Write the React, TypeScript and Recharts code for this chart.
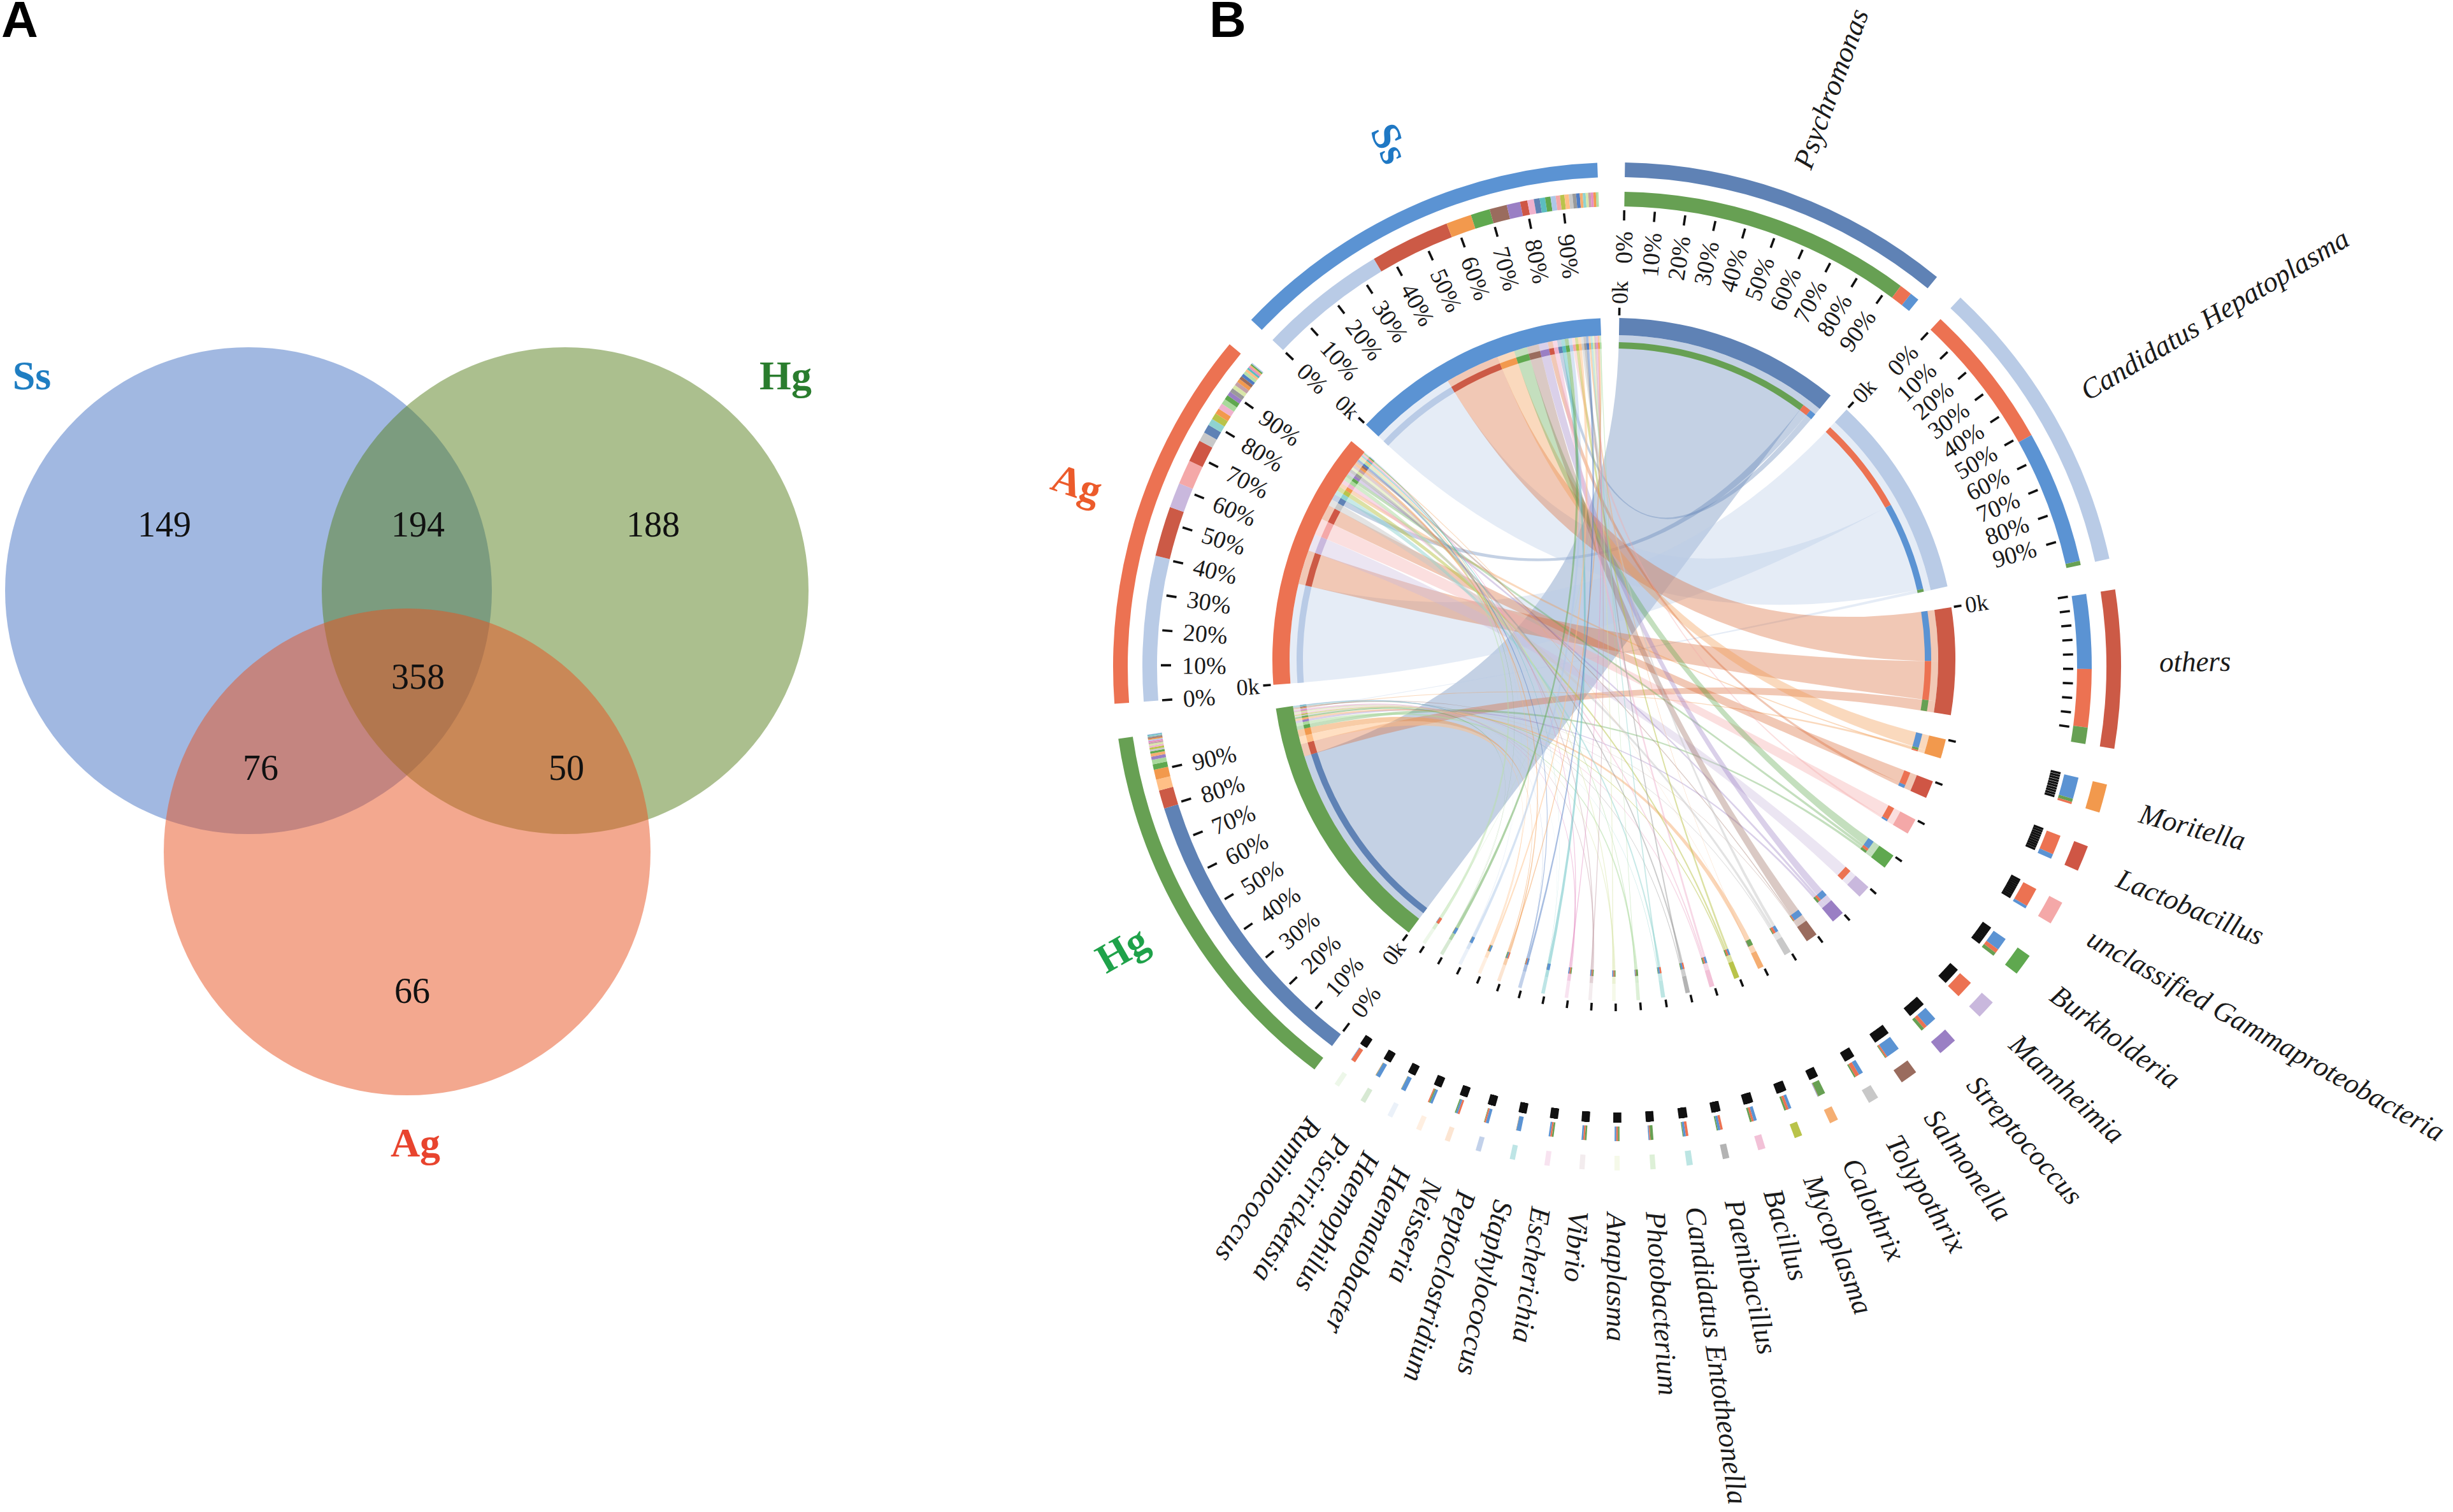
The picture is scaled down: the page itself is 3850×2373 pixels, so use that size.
// Рисунок из двух панелей: A - диаграмма Венна, B - хордовая диаграмма родов и хозяев.
import React from 'react';
import { PieChart, Pie, ScatterChart, Scatter, XAxis, YAxis, ZAxis } from 'recharts';

// ---------- данные панели A ----------
const vennSets = ['Ss', 'Hg', 'Ag'];
const vennCounts = [149, 194, 188, 358, 76, 50, 66];

// ---------- данные панели B ----------
const genusNames = [
  'Psychromonas', 'Candidatus Hepatoplasma', 'others', 'Moritella', 'Lactobacillus',
  'unclassified Gammaproteobacteria', 'Burkholderia', 'Mannheimia', 'Streptococcus', 'Salmonella',
  'Tolypothrix', 'Calothrix', 'Mycoplasma', 'Bacillus', 'Paenibacillus', 'Candidatus Entotheonella',
  'Photobacterium', 'Anaplasma', 'Vibrio', 'Escherichia', 'Staphylococcus', 'Peptoclostridium',
  'Neisseria', 'Haematobacter', 'Haemophilus', 'Piscirickettsia', 'Ruminococcus',
];
const genusSizes = [38.5, 34.7, 18.2, 3.3, 3, 2.7, 2.5, 2.2, 2.2, 2, 1.2, 1, 0.9, 0.85, 0.75, 0.7, 0.6, 0.6, 0.6, 0.6, 0.6, 0.6, 0.6, 0.6, 0.6, 0.6, 0.6];
const hostNames = ['Hg', 'Ag', 'Ss'];
const hostSizes = [44.85, 44, 44.3];

// доля рода внутри хозяина, %
const ssByGenus = [1.6, 35.4, 22, 7, 2, 1.2, 5.3, 0, 3.7, 4.8, 1, 0.8, 1.2, 1.8, 1, 0.8, 0.4, 0.7, 0.7, 0.7, 1.5, 1, 0.7, 1.2, 1.4, 1.5, 0.3];
const agByGenus = [2.4, 40.5, 14, 1.6, 6.2, 6.8, 1.3, 7, 1.2, 0.9, 2.6, 0.4, 1.8, 1.6, 1.2, 1.9, 1.5, 1.1, 1.1, 0.5, 0.6, 0.9, 1, 0.7, 0.3, 0.4, 0.9];
const hgByGenus = [79, 0.3, 5, 0.3, 0, 0, 1.5, 0, 0.9, 0.3, 0.5, 0.8, 0.5, 0.5, 0.3, 0.2, 1.2, 0.5, 0.4, 0.4, 0.2, 0.1, 2.7, 3, 0.1, 0.6, 0];

// доля хозяина внутри рода, %
const genusInSs = [3, 47, 50, 80, 20, 13, 62, 0, 62, 85, 45, 5, 40, 45, 40, 40, 20, 33, 33, 33, 92, 60, 35, 50, 90, 85, 10];
const genusInAg = [4, 51.5, 39, 8, 80, 87, 20, 100, 20, 10, 40, 5, 35, 30, 40, 45, 20, 33, 33, 33, 4, 30, 40, 25, 3, 5, 90];
const genusInHg = [93, 1.5, 11, 12, 0, 0, 18, 0, 18, 5, 15, 90, 25, 25, 20, 15, 60, 34, 34, 34, 4, 10, 25, 25, 7, 10, 0];

// ---------- оформление ----------
const SERIF = '"Liberation Serif", serif';
const VENN_FILL: Record<string, string> = { Ss: '#4472c4', Hg: '#577f1d', Ag: '#e7511f' };
const VENN_TEXT: Record<string, string> = { Ss: '#1f7ec2', Hg: '#2a7d2e', Ag: '#e8442e' };
const VENN_RADIUS = 382;
const VENN_CENTERS = [[390, 927], [887, 927], [639, 1337]];
const VENN_SET_LABELS = [[50, 590], [1233, 590], [652, 1794]];
const VENN_COUNT_SPOTS = [[258, 822], [656, 822], [1025, 822], [656, 1061], [409, 1204], [889, 1204], [647, 1554]];

const GENUS_COLORS = [
  '#5f82b5', '#b9cbe6', '#cc5a46', '#f2994d', '#cf5645', '#f4a8a8', '#5fa84f', '#c9b8dd', '#9a7fc4',
  '#9a6c5e', '#c8c8c8', '#f5ae72', '#b9c34a', '#efb1cd', '#9a9a9a', '#8fd3d0', '#a9d99c', '#d8e6a8',
  '#c4a0a8', '#e58fc4', '#5cbdc0', '#4f7cc4', '#f2994d', '#ffbf86', '#aec7e8', '#5fa84f', '#b8e0a8',
];
// у красных лент оттенок на оригинале ближе к оранжевому
const LINK_COLOR_OVERRIDE: Record<number, string> = { 2: '#d96a35', 4: '#d96a35' };
// тонкие сектора на оригинале выглядят бледными
const GENUS_FADE = [1, 1, 1, 1, 1, 1, 1, 1, 1, 1, 1, 1, 1, 0.8, 0.75, 0.6, 0.4, 0.25, 0.2, 0.25, 0.4, 0.35, 0.25, 0.25, 0.25, 0.25, 0.25];
const HOST_COLORS: Record<string, string> = { Ss: '#5b93d3', Ag: '#ec7252', Hg: '#67a053' };
const HOST_LABEL_COLORS: Record<string, string> = { Ss: '#1f78c4', Ag: '#ec5b2b', Hg: '#1fa24a' };

const CHART_LEFT = 1500;
const FIRST_ANGLE = 0.9;
// промежутки после каждого сектора по часовой стрелке, градусы
const SECTOR_GAPS = [
  3.55, 3.55, 4.15, 4.05, 4.05, 4.4, 4.25, 3.9, 3.5, 3.2, 4, 3.45, 3.525, 3.4, 3.475, 3.55, 3.5, 3.4, 3.4, 3.4, 3.4,
  3.1, 2.9, 3, 2.9, 2.9, 2.8, 4, 3.7, 0,
];
const LABELLED = ['Psychromonas', 'Candidatus Hepatoplasma', 'Hg', 'Ag', 'Ss'];
const ZERO_K = ['Psychromonas', 'Candidatus Hepatoplasma', 'others', 'Hg', 'Ag', 'Ss'];
const HOST_LABEL_SHIFT = 1;
// поправка к углу подписи рода, градусы
const NAME_NUDGE: Record<string, number> = { 'Candidatus Hepatoplasma': -1.1, others: -1.2 };
const NAME_RADIUS = 851;
// Psychromonas упирается в верхний край страницы
const NAME_RADIUS_NUDGE: Record<string, number> = { Psychromonas: -10 };

// внешняя и внутренняя группы колец на оригинале чуть смещены друг относительно друга
const OUT = { cx: 2538 - CHART_LEFT, cy: 1046 };
const INN = { cx: 2533 - CHART_LEFT, cy: 1035 };
const NAMES = { cx: 2538 - CHART_LEFT, cy: 1052 };

type Part = { key: string; share: number; color: string; a0: number; a1: number };
type Sector = { name: string; size: number; a0: number; a1: number; color: string; fade: number; parts: Part[] };

const hostByGenus: Record<string, number[]> = { Ss: ssByGenus, Ag: agByGenus, Hg: hgByGenus };
const genusInHost: Record<string, number[]> = { Ss: genusInSs, Ag: genusInAg, Hg: genusInHg };

const buildParts = (a0: number, a1: number, items: { key: string; value: number; color: string }[]): Part[] => {
  const live = items.filter((d) => d.value > 0).sort((p, q) => q.value - p.value);
  const total = live.reduce((s, d) => s + d.value, 0);
  let cur = a0;
  return live.map((d) => {
    const w = ((a1 - a0) * d.value) / total;
    const part = { key: d.key, share: d.value / total, color: d.color, a0: cur, a1: cur + w };
    cur += w;
    return part;
  });
};

const sectors: Sector[] = [];
{
  let cursor = FIRST_ANGLE;
  genusNames.forEach((name, i) => {
    const a0 = cursor;
    const a1 = a0 + genusSizes[i];
    const parts = buildParts(a0, a1, hostNames.map((h) => ({ key: h, value: genusInHost[h][i], color: HOST_COLORS[h] })));
    sectors.push({ name, size: genusSizes[i], a0, a1, color: GENUS_COLORS[i], fade: GENUS_FADE[i], parts });
    cursor = a1 + SECTOR_GAPS[i];
  });
  hostNames.forEach((name, i) => {
    const a0 = cursor;
    const a1 = a0 + hostSizes[i];
    const parts = buildParts(a0, a1, genusNames.map((g, k) => ({ key: g, value: hostByGenus[name][k], color: GENUS_COLORS[k] })));
    sectors.push({ name, size: hostSizes[i], a0, a1, color: HOST_COLORS[name], fade: 1, parts });
    cursor = a1 + SECTOR_GAPS[genusNames.length + i];
  });
}

const blank = (value: number) => ({ name: 'gap', value, fill: 'none' });

// кольцо секторов: кусок сектора и пустой промежуток по очереди
const barSlices = (withFade: boolean) => {
  const rows: any[] = [blank(FIRST_ANGLE)];
  sectors.forEach((s, i) => {
    rows.push({ name: s.name, value: s.a1 - s.a0, fill: s.color, fillOpacity: withFade ? s.fade : 1 });
    const next = i < sectors.length - 1 ? sectors[i + 1].a0 : 360;
    rows.push(blank(next - s.a1));
  });
  return rows;
};

// кольцо состава: сектор разбит по партнёрам
const partSlices = () => {
  const rows: any[] = [blank(FIRST_ANGLE)];
  sectors.forEach((s, i) => {
    s.parts.forEach((p) => rows.push({ name: p.key, value: p.a1 - p.a0, fill: p.color }));
    const next = i < sectors.length - 1 ? sectors[i + 1].a0 : 360;
    rows.push(blank(next - s.a1));
  });
  return rows;
};

const polar = (c: { cx: number; cy: number }, r: number, deg: number): [number, number] => {
  const t = (deg * Math.PI) / 180;
  return [c.cx + r * Math.sin(t), c.cy - r * Math.cos(t)];
};

const RIBBON_R = 509;

const ribbonPath = (h0: number, h1: number, g0: number, g1: number) => {
  const r = RIBBON_R;
  const [ax, ay] = polar(INN, r, h0);
  const [bx, by] = polar(INN, r, h1);
  const [cx, cy] = polar(INN, r, g0);
  const [dx, dy] = polar(INN, r, g1);
  const { cx: mx, cy: my } = INN;
  return `M${ax} ${ay}A${r} ${r} 0 0 1 ${bx} ${by}Q${mx} ${my} ${cx} ${cy}A${r} ${r} 0 0 1 ${dx} ${dy}Q${mx} ${my} ${ax} ${ay}Z`;
};

const Ribbons = () => {
  const rows: React.ReactNode[] = [];
  genusNames.forEach((g, gi) => {
    hostNames.forEach((h) => {
      const host = sectors.find((s) => s.name === h)!;
      const hp = host.parts.find((p) => p.key === g);
      const gp = sectors[gi].parts.find((p) => p.key === h);
      if (!hp || !gp) return;
      rows.push(
        <path
          key={g + h}
          d={ribbonPath(hp.a0, hp.a1, gp.a0, gp.a1)}
          fill={LINK_COLOR_OVERRIDE[gi] || GENUS_COLORS[gi]}
          fillOpacity={gi < 10 ? 0.37 : 0.5}
        />,
      );
    });
  });
  return <g>{rows}</g>;
};

const Radial = ({ c, r0, r1, deg, width = 3.6 }: { c: { cx: number; cy: number }; r0: number; r1: number; deg: number; width?: number }) => {
  const [x0, y0] = polar(c, r0, deg);
  const [x1, y1] = polar(c, r1, deg);
  return <line x1={x0} y1={y0} x2={x1} y2={y1} stroke="#111" strokeWidth={width} />;
};

// подпись вдоль радиуса: справа читается наружу, слева внутрь
const RadialText = ({ c, r, deg, text, size, outerEnd }: { c: { cx: number; cy: number }; r: number; deg: number; text: string; size: number; outerEnd: boolean }) => {
  const [x, y] = polar(c, r, deg);
  const right = deg < 180;
  return (
    <text
      x={x}
      y={y}
      dy=".35em"
      textAnchor={outerEnd ? (right ? 'end' : 'start') : right ? 'start' : 'end'}
      transform={`rotate(${right ? deg - 90 : deg - 270} ${x} ${y})`}
      fontFamily={SERIF}
      fontSize={size}
      fill="#1a1a1a"
    >
      {text}
    </text>
  );
};

const Annotations = () => (
  <g>
    {sectors.map((s) => (
      <g key={s.name}>
        {[0, 1, 2, 3, 4, 5, 6, 7, 8, 9].map((k) => (
          <Radial key={k} c={OUT} r0={700} r1={716} width={s.size < 1 ? 6 : 3.6} deg={s.a0 + ((s.a1 - s.a0) * k) / 10} />
        ))}
        <Radial c={INN} r0={540} r1={552} deg={s.a0} />
        {LABELLED.includes(s.name) &&
          [0, 1, 2, 3, 4, 5, 6, 7, 8, 9].map((k) => (
            <RadialText key={k} c={OUT} r={683} deg={s.a0 + ((s.a1 - s.a0) * k) / 10} text={`${k * 10}%`} size={38} outerEnd />
          ))}
        {ZERO_K.includes(s.name) && <RadialText c={INN} r={558} deg={s.a0} text="0k" size={36} outerEnd={false} />}
      </g>
    ))}
    {sectors.slice(0, genusNames.length).map((s) => {
      const mid = (s.a0 + s.a1) / 2 + (NAME_NUDGE[s.name] || 0);
      const [x, y] = polar(NAMES, NAME_RADIUS + (NAME_RADIUS_NUDGE[s.name] || 0), mid);
      return (
        <text
          key={s.name}
          x={x}
          y={y}
          dy=".35em"
          transform={`rotate(${mid - 90} ${x} ${y})`}
          fontFamily={SERIF}
          fontStyle="italic"
          fontSize={45}
          fill="#1a1a1a"
        >
          {s.name}
        </text>
      );
    })}
    {sectors.slice(genusNames.length).map((s) => {
      const mid = (s.a0 + s.a1) / 2 + HOST_LABEL_SHIFT;
      const [x, y] = polar(OUT, 895, mid);
      return (
        <text
          key={s.name}
          x={x}
          y={y}
          dy=".35em"
          textAnchor="middle"
          transform={`rotate(${mid - 270} ${x} ${y})`}
          fontFamily={SERIF}
          fontWeight="bold"
          fontSize={64}
          fill={HOST_LABEL_COLORS[s.name]}
        >
          {s.name}
        </text>
      );
    })}
  </g>
);

const Ring = ({ data, c, inner, outer }: { data: any[]; c: { cx: number; cy: number }; inner: number; outer: number }) => (
  <Pie
    data={data}
    dataKey="value"
    nameKey="name"
    cx={c.cx}
    cy={c.cy}
    innerRadius={inner}
    outerRadius={outer}
    startAngle={90}
    endAngle={-270}
    paddingAngle={0}
    stroke="none"
    label={false}
    labelLine={false}
    isAnimationActive={false}
  />
);

const vennCircleRows = vennSets.map((name, i) => ({ name, x: VENN_CENTERS[i][0], y: VENN_CENTERS[i][1], z: 1 }));
const vennSetRows = vennSets.map((name, i) => ({ name, x: VENN_SET_LABELS[i][0], y: VENN_SET_LABELS[i][1] }));
const vennCountRows = vennCounts.map((count, i) => ({ count, x: VENN_COUNT_SPOTS[i][0], y: VENN_COUNT_SPOTS[i][1] }));

const CountMark = (p: any) => (
  <text x={p.cx} y={p.cy} dy=".35em" textAnchor="middle" fontFamily={SERIF} fontSize={56} fill="#111">
    {p.payload.count}
  </text>
);
const SetMark = (p: any) => (
  <text
    x={p.cx}
    y={p.cy}
    dy=".33em"
    textAnchor="middle"
    fontFamily={SERIF}
    fontWeight="bold"
    fontSize={64}
    fill={VENN_TEXT[p.payload.name]}
  >
    {p.payload.name}
  </text>
);

const VennPanel = () => {
  const area = Math.PI * VENN_RADIUS * VENN_RADIUS;
  return (
    <ScatterChart width={1400} height={1900} margin={{ top: 0, right: 0, bottom: 0, left: 0 }}>
      <XAxis type="number" dataKey="x" domain={[0, 1400]} hide />
      <YAxis type="number" dataKey="y" domain={[0, 1900]} reversed hide />
      <ZAxis type="number" dataKey="z" range={[area, area]} />
      {vennCircleRows.map((row) => (
        <Scatter key={row.name} data={[row]} fill={VENN_FILL[row.name]} fillOpacity={0.5} isAnimationActive={false} />
      ))}
      <Scatter data={vennSetRows} shape={SetMark} isAnimationActive={false} />
      <Scatter data={vennCountRows} shape={CountMark} isAnimationActive={false} />
    </ScatterChart>
  );
};

const ChordPanel = () => (
  <PieChart width={3850 - CHART_LEFT} height={2373} margin={{ top: 0, right: 0, bottom: 0, left: 0 }}>
    <Ribbons />
    <Ring data={barSlices(true)} c={OUT} inner={768} outer={791} />
    <Ring data={partSlices()} c={OUT} inner={722} outer={745} />
    <Ring data={barSlices(true)} c={INN} inner={509} outer={536} />
    <Ring data={partSlices()} c={INN} inner={488} outer={498} />
    <Annotations />
  </PieChart>
);

const panelLetter = (text: string, left: number) => (
  <div
    style={{
      position: 'absolute',
      left,
      top: 0,
      fontFamily: '"Liberation Sans", sans-serif',
      fontWeight: 'bold',
      fontSize: 80,
      lineHeight: '62px',
      color: '#000',
    }}
  >
    {text}
  </div>
);

export default function App() {
  return (
    <div style={{ position: 'absolute', left: 0, top: 0, width: 3850, height: 2373, overflow: 'hidden', background: '#fff' }}>
      <div style={{ position: 'absolute', left: 0, top: 0 }}>
        <VennPanel />
      </div>
      <div style={{ position: 'absolute', left: CHART_LEFT, top: 0 }}>
        <ChordPanel />
      </div>
      {panelLetter('A', 2)}
      {panelLetter('B', 1898)}
    </div>
  );
}
